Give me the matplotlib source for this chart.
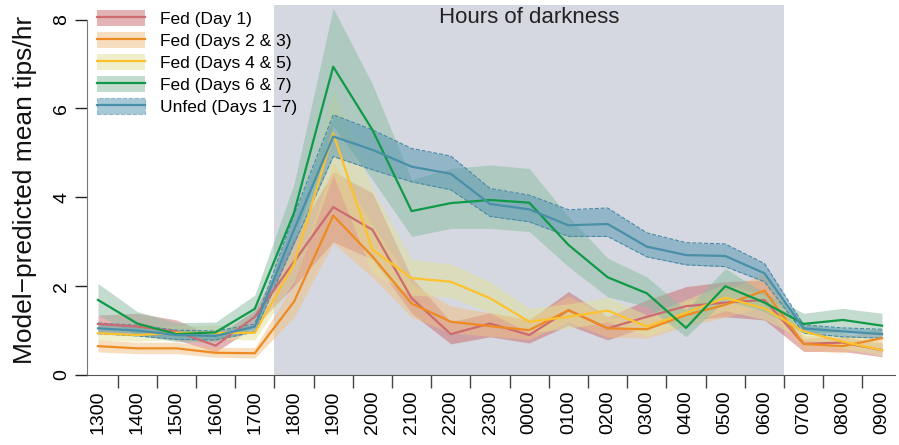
import numpy as np
import matplotlib
matplotlib.use("Agg")
import matplotlib.pyplot as plt
from matplotlib.patches import Patch
from matplotlib.lines import Line2D

plt.rcParams['font.family'] = ['Liberation Sans', 'DejaVu Sans']

# hours (x axis)
hours = ['1300', '1400', '1500', '1600', '1700', '1800', '1900', '2000', '2100', '2200', '2300',
         '0000', '0100', '0200', '0300', '0400', '0500', '0600', '0700', '0800', '0900']

# Fed (Day 1)
red_mean = [1.15, 1.09, 0.98, 0.66, 1.31, 2.55, 3.78, 3.27, 1.73, 0.92, 1.16, 0.90, 1.46, 1.05, 1.31, 1.55, 1.63, 1.69, 0.70, 0.73, 0.56]
red_lo = [0.98, 0.94, 0.79, 0.52, 1.09, 2.00, 3.00, 2.60, 1.39, 0.70, 0.86, 0.72, 1.12, 0.79, 1.09, 1.24, 1.31, 1.24, 0.53, 0.53, 0.41]
red_hi = [1.35, 1.39, 1.24, 0.86, 1.46, 3.10, 4.58, 4.10, 2.20, 1.20, 1.40, 1.24, 1.88, 1.31, 1.69, 1.99, 2.10, 2.14, 0.83, 0.86, 0.72]

# Fed (Days 2 & 3)
orange_mean = [0.65, 0.60, 0.60, 0.50, 0.49, 1.65, 3.59, 2.67, 1.61, 1.20, 1.10, 1.01, 1.46, 1.05, 1.03, 1.35, 1.58, 1.90, 0.70, 0.65, 0.83]
orange_lo = [0.52, 0.48, 0.48, 0.40, 0.38, 1.30, 2.97, 2.20, 1.30, 0.95, 0.87, 0.80, 1.20, 0.85, 0.83, 1.10, 1.30, 1.55, 0.55, 0.50, 0.65]
orange_hi = [0.79, 0.74, 0.74, 0.62, 0.62, 2.05, 4.80, 3.40, 2.05, 1.55, 1.40, 1.28, 1.78, 1.30, 1.28, 1.65, 1.90, 2.30, 0.90, 0.85, 1.05]

# Fed (Days 4 & 5)
yellow_mean = [0.94, 0.90, 0.95, 0.95, 0.95, 2.50, 5.44, 2.82, 2.18, 2.10, 1.73, 1.20, 1.31, 1.45, 1.09, 1.40, 1.74, 1.50, 0.98, 0.75, 0.56]
yellow_lo = [0.78, 0.76, 0.80, 0.80, 0.79, 2.10, 4.50, 2.30, 1.80, 1.75, 1.40, 0.95, 1.05, 1.20, 0.88, 1.15, 1.45, 1.25, 0.80, 0.60, 0.43]
yellow_hi = [1.12, 1.06, 1.12, 1.12, 1.12, 2.95, 6.38, 4.20, 2.60, 2.50, 2.10, 1.50, 1.60, 1.75, 1.35, 1.70, 2.05, 1.80, 1.20, 0.95, 0.75]

# Fed (Days 6 & 7)
green_mean = [1.69, 1.16, 0.92, 0.96, 1.49, 3.65, 6.94, 5.52, 3.69, 3.87, 3.94, 3.88, 2.93, 2.20, 1.84, 1.06, 2.00, 1.63, 1.15, 1.24, 1.11]
green_lo = [1.35, 0.90, 0.75, 0.75, 1.20, 3.00, 5.60, 4.40, 3.12, 3.30, 3.30, 3.23, 2.44, 1.76, 1.54, 0.86, 1.69, 1.43, 0.94, 0.98, 0.94]
green_hi = [2.06, 1.43, 1.18, 1.19, 1.80, 4.30, 8.26, 6.55, 4.40, 4.65, 4.73, 4.65, 3.57, 2.63, 2.21, 1.46, 2.40, 1.85, 1.39, 1.50, 1.39]

# Unfed (Days 1-7)
blue_mean = [1.05, 1.00, 0.90, 0.88, 1.09, 3.27, 5.37, 5.07, 4.69, 4.53, 3.85, 3.73, 3.37, 3.40, 2.89, 2.70, 2.68, 2.29, 1.05, 0.98, 0.92]
blue_lo = [0.93, 0.88, 0.80, 0.79, 0.97, 2.95, 4.92, 4.62, 4.35, 4.17, 3.57, 3.45, 3.12, 3.12, 2.66, 2.48, 2.44, 2.10, 0.94, 0.86, 0.83]
blue_hi = [1.17, 1.12, 1.01, 0.99, 1.15, 3.60, 5.86, 5.52, 5.10, 4.93, 4.20, 4.05, 3.72, 3.76, 3.20, 2.98, 2.95, 2.51, 1.13, 1.06, 1.03]

labels = ['Fed (Day 1)', 'Fed (Days 2 & 3)', 'Fed (Days 4 & 5)', 'Fed (Days 6 & 7)', 'Unfed (Days 1\u22127)']
line_cols = ['#cc6b70', '#ee8a22', '#fcc22e', '#109a48', '#4a8fa8']
band_cols = ['#c9696d', '#f1bf81', '#e1e199', '#89bba1', '#5195b1']

x = np.arange(len(hours))

fig = plt.figure(figsize=(8.99, 4.45), dpi=100)
ax = fig.add_axes([87 / 899, 70 / 445, 808 / 899, 370 / 445])

# hours of darkness
ax.axvspan(4.5, 17.5, color='#d5d8e0', lw=0, zorder=0)
ax.text(11, 8.04, 'Hours of darkness', ha='center', va='center', fontsize=16, color='#222222')

series = [
    (red_mean, red_lo, red_hi),
    (orange_mean, orange_lo, orange_hi),
    (yellow_mean, yellow_lo, yellow_hi),
    (green_mean, green_lo, green_hi),
    (blue_mean, blue_lo, blue_hi),
]

for k, (m, lo, hi) in enumerate(series):
    ax.fill_between(x, lo, hi, color=band_cols[k], alpha=0.5, lw=0, zorder=1)
    if k == 4:
        ax.plot(x, lo, '--', color='#4a8aa8', lw=0.8, zorder=2)
        ax.plot(x, hi, '--', color='#4a8aa8', lw=0.8, zorder=2)

for k, (m, lo, hi) in enumerate(series):
    ax.plot(x, m, color=line_cols[k], lw=1.6, zorder=3)

ax.set_xlim(-0.28, 20.33)
ax.set_ylim(0, 8.33)

for s in ['top', 'right']:
    ax.spines[s].set_visible(False)
ax.spines['left'].set_bounds(0, 8)
ax.spines['left'].set_color('#777777')
ax.spines['bottom'].set_color('#555555')

ax.set_yticks([0, 2, 4, 6, 8])
ax.tick_params(axis='y', length=9, width=1, color='#222222', labelsize=14, labelrotation=90, pad=3)
for t in ax.get_yticklabels():
    t.set_va('center')

ax.set_xticks(x)
ax.set_xticklabels(hours, rotation=90, fontsize=14)
ax.tick_params(axis='x', which='major', length=0, pad=11)
ax.set_xticks(x[:-1] + 0.5, minor=True)
ax.tick_params(axis='x', which='minor', length=9, width=1, color='#444444')

ax.set_ylabel('Model\u2212predicted mean tips/hr', fontsize=19, color='#111111')
ax.yaxis.set_label_coords(-0.062, 0.5)

handles = []
for k in range(5):
    if k == 4:
        p = Patch(facecolor=band_cols[k], alpha=0.5, edgecolor='#4a8aa8', linestyle='--', lw=0.8)
    else:
        p = Patch(facecolor=band_cols[k], alpha=0.5, lw=0)
    handles.append((p, Line2D([], [], color=line_cols[k], lw=1.6)))

ax.legend(handles, labels, loc='upper left', bbox_to_anchor=(97 / 899, 1 - 10 / 445),
          bbox_transform=fig.transFigure, frameon=False, fontsize=12.5,
          handlelength=2.75, handleheight=1.05, labelspacing=0.29, handletextpad=0.85,
          borderpad=0, borderaxespad=0)

fig.savefig('out.png', dpi=100)
